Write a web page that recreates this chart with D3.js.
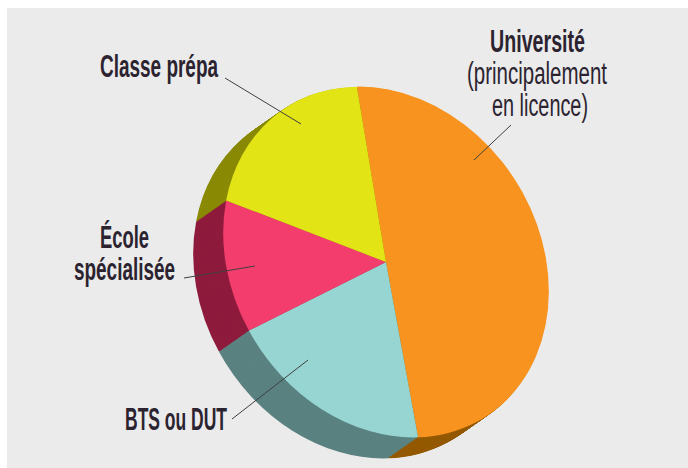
<!DOCTYPE html>
<html>
<head>
<meta charset="utf-8">
<script src="https://cdn.jsdelivr.net/npm/d3@7"></script>
<style>
  html, body { margin: 0; padding: 0; background: #fff; }
  svg { display: block; }
  text { font-family: "Liberation Sans Narrow", "Liberation Sans", sans-serif; fill: #2b2430; }
</style>
</head>
<body>
<script>
const categories = ['Université', 'BTS ou DUT', 'École spécialisée', 'Classe prépa']
const values = [49.7, 19.1, 12.1, 19.1]
const topColors = ['#f7931e', '#96d5d1', '#f23d6d', '#e2e416']
const sideColors = ['#945a00', '#5a8280', '#8e1b3d', '#8a8a06']

const width = 688
const height = 468

// tilted ellipse the pie is squashed into
const cx = 386
const cy = 262
const rx = 184
const ry = 153
const tilt = 57
const depthX = -30
const depthY = 21
const steps = 40
// big base radius, d3.arc rounds its path to 3 digits
const baseRadius = 1000

const svg = d3.select('body')
  .append('svg')
  .attr('width', width)
  .attr('height', height)

svg.append('rect')
  .attr('x', 7)
  .attr('y', 8)
  .attr('width', width - 7)
  .attr('height', height - 8)
  .attr('fill', '#ebebeb')

const pie = d3.pie()
  .sort(null)
  .startAngle(-62.3 * Math.PI / 180)
  .endAngle((360 - 62.3) * Math.PI / 180)

const slices = pie(values)
const arc = d3.arc().innerRadius(0).outerRadius(baseRadius)

const place = (t) => {
  const x = cx + depthX * t
  const y = cy + depthY * t
  return `translate(${x},${y}) rotate(${tilt}) scale(${rx / baseRadius},${ry / baseRadius})`
}

// side wall: same slices stacked from the far end up to the top face
const layers = d3.range(steps, 0, -1).map(i => i / steps)

svg.append('g')
  .attr('class', 'side')
  .selectAll('g')
  .data(layers)
  .enter()
  .append('g')
  .attr('transform', d => place(d))
  .selectAll('path')
  .data(slices)
  .enter()
  .append('path')
  .attr('d', arc)
  .attr('fill', (d, i) => sideColors[i])

svg.append('g')
  .attr('class', 'top')
  .attr('transform', place(0))
  .selectAll('path')
  .data(slices)
  .enter()
  .append('path')
  .attr('d', arc)
  .attr('fill', (d, i) => topColors[i])

const leaders = [
  [511, 125, 474, 160],
  [232, 419, 308, 360],
  [184, 278, 255, 266],
  [225, 78, 301, 124]
]

svg.append('g')
  .selectAll('line')
  .data(leaders)
  .enter()
  .append('line')
  .attr('x1', d => d[0])
  .attr('y1', d => d[1])
  .attr('x2', d => d[2])
  .attr('y2', d => d[3])
  .attr('stroke', '#3f3f3f')
  .attr('stroke-width', 1)

const labels = [
  { text: 'Université', x: 490, y: 52, w: 95, bold: true },
  { text: '(principalement', x: 467, y: 84, w: 140, bold: false },
  { text: 'en licence)', x: 492, y: 116, w: 96, bold: false },
  { text: 'Classe prépa', x: 100, y: 77, w: 118, bold: true },
  { text: 'École', x: 100, y: 248, w: 49, bold: true },
  { text: 'spécialisée', x: 74, y: 280, w: 101, bold: true },
  { text: 'BTS ou DUT', x: 125, y: 430, w: 102, bold: true }
]

svg.append('g')
  .selectAll('text')
  .data(labels)
  .enter()
  .append('text')
  .attr('x', d => d.x)
  .attr('y', d => d.y)
  .attr('textLength', d => d.w)
  .attr('lengthAdjust', 'spacingAndGlyphs')
  .attr('font-size', 31)
  .attr('font-weight', d => d.bold ? 700 : 400)
  .text(d => d.text)
</script>
</body>
</html>
